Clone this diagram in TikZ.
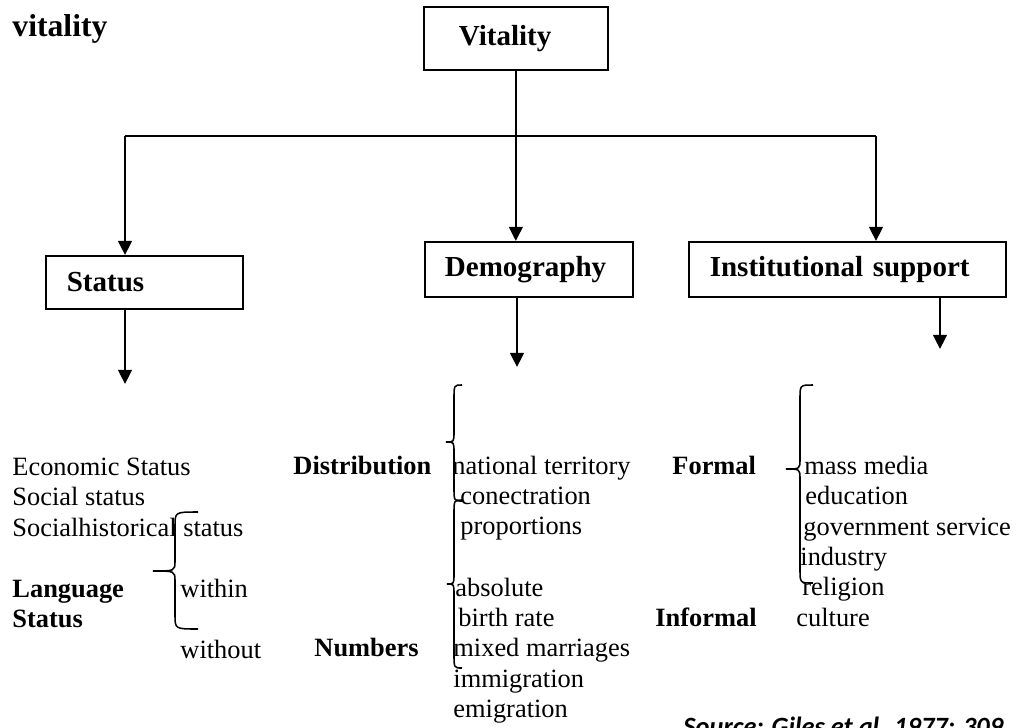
\documentclass[tikz,border=0pt]{standalone}
\usepackage{fontspec}
\setmainfont{Liberation Serif}
\newfontfamily\srcfont{Carlito}
\usetikzlibrary{arrows.meta, positioning, calc}

\begin{document}
\begin{tikzpicture}[x=0.4545pt, y=-0.4545pt,
    line/.style={line width=0.9pt},
    arrow/.style={line width=0.9pt, -{Triangle[length=6.4pt, width=6.2pt]}},
    box/.style={draw, line width=0.8pt, anchor=north west, inner ysep=0pt,
        align=left, font=\fontsize{13.2}{15}\selectfont\bfseries},
    txt/.style={anchor=base west, inner sep=0pt, font=\fontsize{12}{14}\selectfont},
    btxt/.style={txt, font=\fontsize{12}{14}\selectfont\bfseries},
    brace/.style={line width=0.7pt}]

% Page frame
\useasboundingbox (0,0) rectangle (1016,727);
\clip (0,0) rectangle (1016,727);

% Define brace macro
% Arguments: hook-x, spine-x, top-y, tip-x, tip-y, bottom-y
\def\curlybrace#1#2#3#4#5#6{
    \draw[brace] (#1,#3) .. controls (#2,#3) .. (#2,#3+14)
        -- (#2,#5-10) .. controls (#2,#5) .. (#4,#5)
        .. controls (#2,#5) .. (#2,#5+10)
        -- (#2,#6-14) .. controls (#2,#6) .. (#1,#6);
}

% Title
\node[anchor=base west, inner sep=0pt, font=\fontsize{14.4}{17}\selectfont\bfseries]
    (title) at (12,36) {vitality};

% Boxes
\node[box, inner xsep=15.9pt, text width=51.8pt, minimum height=28.6pt] (vit) at (423,6) {Vitality};
\node[box, inner xsep=9.5pt, text width=70.5pt, minimum height=24.1pt] (status) at (45,255) {Status};
\node[box, inner xsep=9.1pt, text width=76.4pt, minimum height=25pt] (demo) at (424,241) {Demography};
\node[box, inner xsep=9.5pt, text width=125pt, minimum height=25pt] (inst) at (688,241) {Institutional support};

% Bus and arrows
\coordinate (busL) at (125,136);
\coordinate (busR) at (876,136);
\draw[line] (vit.south) -- (vit.south |- busL);
\draw[line] (busL) -- (busR);
\draw[arrow] (busL) -- (busL |- status.north);
\draw[arrow] (vit.south |- busL) -- (vit.south |- demo.north);
\draw[arrow] (busR) -- (busR |- inst.north);

% Arrows out of boxes
\coordinate (statusEnd) at (125,384);
\coordinate (demoEnd) at (517,367);
\coordinate (instEnd) at (940,349);
\draw[arrow] (statusEnd |- status.south) -- (statusEnd);
\draw[arrow] (demoEnd |- demo.south) -- (demoEnd);
\draw[arrow] (instEnd |- inst.south) -- (instEnd);

% Status column
\node[txt] (econ) at (12,475) {Economic Status};
\node[txt] (social) at (12,505) {Social status};
\node[txt] (hist) at (12,536) {Socialhistorical status};
\node[btxt] (lang) at (12,597) {Language};
\node[btxt] (langst) at (12,627) {Status};
\node[txt] (within) at (180,597) {within};
\node[txt] (without) at (180,658) {without};
\curlybrace{198}{175}{512}{153}{571}{629}

% Demography column
\node[btxt] (distr) at (293,474) {Distribution};
\node[btxt] (numbers) at (314,656) {Numbers};
\node[txt] (terr) at (452,474) {national territory};
\node[txt] (conc) at (460,504) {conectration};
\node[txt] (prop) at (460,534) {proportions};
\node[txt] (abs) at (455,596) {absolute};
\node[txt] (birth) at (458,626) {birth rate};
\node[txt] (mixed) at (453,656) {mixed marriages};
\node[txt] (immig) at (453,687) {immigration};
\node[txt] (emig) at (453,717) {emigration};
\curlybrace{462}{454}{385}{446}{442}{501}
\curlybrace{462}{454}{500}{447}{584}{668}

% Institutional support column
\node[btxt] (formal) at (672,474) {Formal};
\node[btxt] (informal) at (655,626) {Informal};
\node[txt] (media) at (804,474) {mass media};
\node[txt] (edu) at (805,504) {education};
\node[txt] (gov) at (803,535) {government service};
\node[txt] (ind) at (800,565) {industry};
\node[txt] (rel) at (802,595) {religion};
\node[txt] (cult) at (796,626) {culture};
\curlybrace{813}{800}{385}{786}{469}{583}

% Source
\node[anchor=base west, inner sep=0pt, font=\srcfont\fontsize{12}{14}\selectfont\bfseries\itshape]
    (source) at (683,735) {Source: Giles et al. 1977: 309};

\end{tikzpicture}
\end{document}
